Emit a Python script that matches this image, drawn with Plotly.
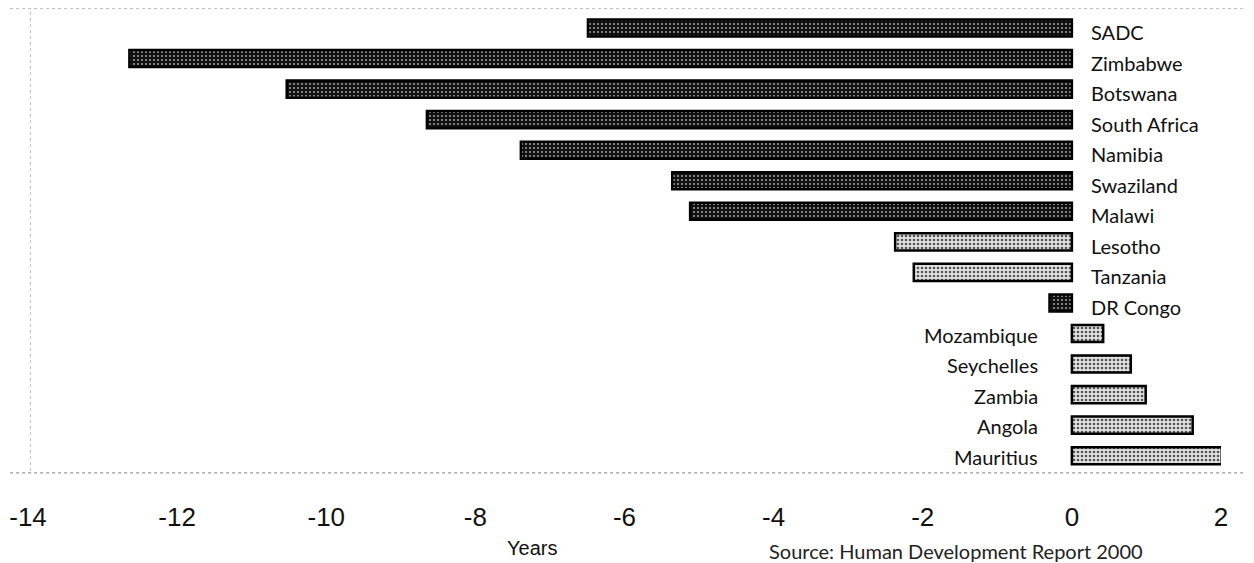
import plotly.graph_objects as go

# Veränderung der Lebenserwartung (Jahre), SADC-Länder
laender = ["SADC", "Zimbabwe", "Botswana", "South Africa", "Namibia", "Swaziland",
           "Malawi", "Lesotho", "Tanzania", "DR Congo", "Mozambique", "Seychelles",
           "Zambia", "Angola", "Mauritius"]
jahre = [-6.49, -12.64, -10.53, -8.65, -7.39, -5.36, -5.12, -2.37, -2.12, -0.30,
         0.42, 0.79, 0.99, 1.62, 2.01]

tick_werte = [-14, -12, -10, -8, -6, -4, -2, 0, 2]
tick_text = ["-14", "-12", "-10", "-8", "-6", "-4", "-2", "0", "2"]

# helle Balken (sonst dunkel)
hell = ["Lesotho", "Tanzania", "Mozambique", "Seychelles", "Zambia", "Angola", "Mauritius"]

label_font = dict(family="Lato", size=20, color="#111")

fig = go.Figure()
for name, wert in zip(laender, jahre):
    if name in hell:
        pattern = dict(shape=".", bgcolor="#e2e2e2", fgcolor="#555", size=4, solidity=0.35, fillmode="replace")
    else:
        pattern = dict(shape=".", bgcolor="#111", fgcolor="#9a9a9a", size=4, solidity=0.22, fillmode="replace")
    fig.add_trace(go.Bar(
        x=[wert], y=[name], orientation="h", width=0.56,
        marker=dict(pattern=pattern, line=dict(color="black", width=2.5)),
        showlegend=False,
    ))
    if wert < 0:
        fig.add_annotation(x=0, y=name, text=name, showarrow=False, xanchor="left",
                           xshift=17, yshift=-4, font=label_font)
    else:
        fig.add_annotation(x=0, y=name, text=name, showarrow=False, xanchor="right",
                           xshift=-32, yshift=-1, font=label_font)

fig.add_annotation(x=0.4225, y=-0.167, xref="paper", yref="paper", text="Years",
                   xanchor="center", yanchor="middle", showarrow=False,
                   font=dict(family="Liberation Sans", size=20, color="#111"))
fig.add_annotation(x=0.778, y=-0.1735, xref="paper", yref="paper",
                   text="Source: Human Development Report 2000",
                   xanchor="center", yanchor="middle", showarrow=False,
                   font=dict(family="Lato", size=20, color="#222"))

# gepunkteter Rahmen
punkt = dict(color="#bbbbbb", width=1, dash="dot")
fig.add_shape(type="line", xref="paper", yref="paper", x0=-0.02, x1=1.02, y0=1.003, y1=1.003, line=punkt)
fig.add_shape(type="line", xref="paper", yref="paper", x0=0.002, x1=0.002, y0=0.0, y1=1.003, line=punkt)
fig.add_shape(type="line", xref="paper", yref="paper", x0=-0.02, x1=1.02, y0=-0.004, y1=-0.004,
              line=dict(color="#999999", width=1.2, dash="dot"))

fig.update_xaxes(range=[-14, 2], tickvals=tick_werte, ticktext=tick_text, showgrid=False,
                 zeroline=False, showline=False, ticks="", ticklabelstandoff=28, automargin=False,
                 tickfont=dict(family="Liberation Sans", size=26, color="#111"))
fig.update_yaxes(categoryorder="array", categoryarray=laender, autorange="reversed", automargin=False,
                 showticklabels=False, showgrid=False, zeroline=False, ticks="")
# Seite hat 8px Rand im Body -> Figur etwas kleiner
fig.update_layout(width=1246, height=555, margin=dict(l=20, r=33, t=2, b=92),
                  plot_bgcolor="white", paper_bgcolor="white", barmode="overlay")
fig.write_html("out.html")
